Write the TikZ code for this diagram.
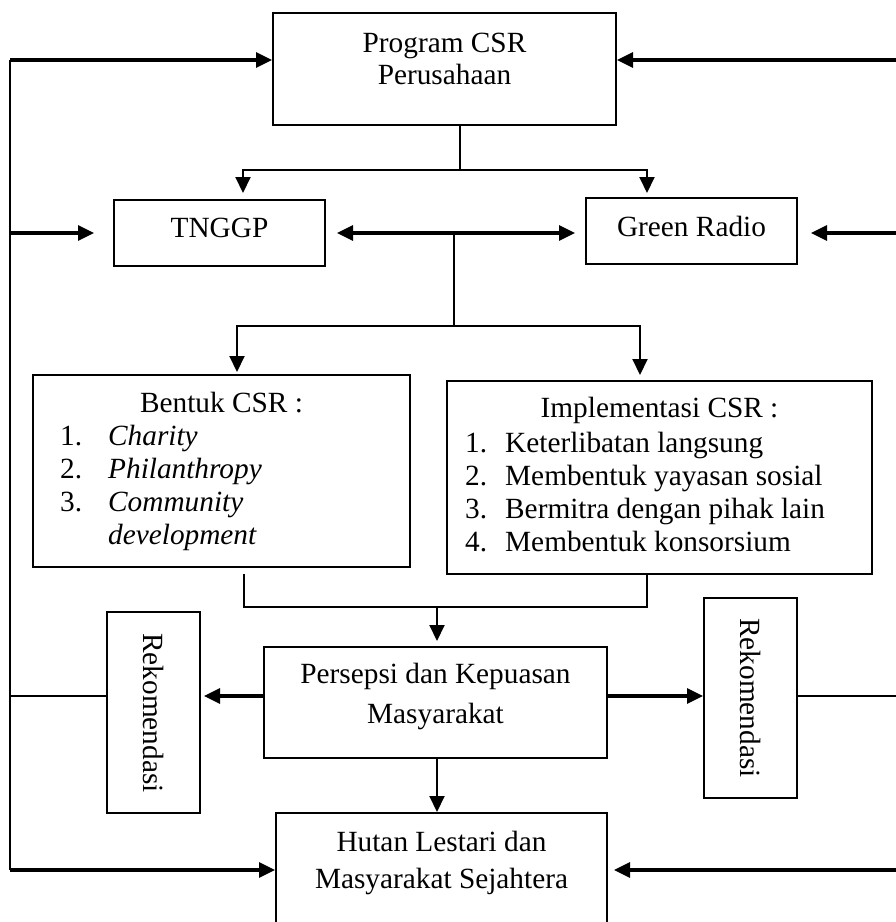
\documentclass[tikz,border=0pt]{standalone}
\usepackage{fontspec}
\setmainfont{Liberation Serif}
\usetikzlibrary{arrows.meta}
\newcommand\fsz[1]{\fontsize{29.3}{#1}\selectfont}
\tikzset{
  boxnode/.style={draw, line width=2pt, inner sep=0pt},
  txt/.style={inner sep=0pt, font=\fsz{33.3}},
  conn/.style={line width=2pt},
  thinline/.style={line width=1.5pt},
  tarrow/.style={line width=2pt, -{Triangle[length=16pt,width=15pt]}},
  harrow/.style={line width=3.2pt, -{Triangle[length=16pt,width=15pt]}},
  dharrow/.style={line width=3.2pt, {Triangle[length=16pt,width=15pt]}-{Triangle[length=16pt,width=15pt]}},
}
\begin{document}
\begin{tikzpicture}[x=1pt,y=-1pt]
\useasboundingbox (0,0) rectangle (896,922);
\clip (0,0) rectangle (896,922);
\fill[white] (0,0) rectangle (896,922);

% boxes
\node[boxnode, minimum width=343pt, minimum height=112pt] (prog) at (444.5,69) {};
\node[boxnode, minimum width=211pt, minimum height=66pt] (tng) at (219.5,233) {};
\node[boxnode, minimum width=211pt, minimum height=66pt] (grr) at (691.5,231) {};
\node[boxnode, minimum width=377pt, minimum height=192pt] (bent) at (221.5,471) {};
\node[boxnode, minimum width=425pt, minimum height=193pt] (impl) at (659.5,477.5) {};
\node[boxnode, minimum width=343pt, minimum height=111pt] (pers) at (435.5,702.5) {};
\node[boxnode, minimum width=93pt, minimum height=201pt] (rekL) at (153.5,712.5) {};
\node[boxnode, minimum width=93pt, minimum height=200pt] (rekR) at (750.5,698) {};
\node[boxnode, minimum width=331pt, minimum height=150pt] (hut) at (441.5,888) {};

% texts
\node[txt, anchor=base] (progT) at (444.5,52) {\fsz{32}\begin{tabular}[t]{@{}c@{}}Program CSR\\Perusahaan\end{tabular}};
\node[txt, anchor=base] (tngT) at (219.5,237) {TNGGP};
\node[txt, anchor=base] (grrT) at (691.5,236) {Green Radio};
\node[txt, anchor=base] (bentH) at (221.5,412) {Bentuk CSR :};
\node[txt, anchor=base west] (bentL) at (60,445) {\fsz{33.3}\begin{tabular}[t]{@{}p{48pt}@{}l@{}}
1.&\textit{Charity}\\
2.&\textit{Philanthropy}\\
3.&\textit{Community}\\
&\textit{development}\end{tabular}};
\node[txt, anchor=base] (implH) at (659.5,417) {Implementasi CSR :};
\node[txt, anchor=base west] (implL) at (465,452) {\fsz{33.3}\begin{tabular}[t]{@{}p{40pt}@{}l@{}}
1.&Keterlibatan langsung\\
2.&Membentuk yayasan sosial\\
3.&Bermitra dengan pihak lain\\
4.&Membentuk konsorsium\end{tabular}};
\node[txt, anchor=base] (persT) at (435.5,683) {\fsz{40}\begin{tabular}[t]{@{}c@{}}Persepsi dan Kepuasan\\Masyarakat\end{tabular}};
\node[txt, anchor=base] (hutT) at (441.5,851) {\fsz{37}\begin{tabular}[t]{@{}c@{}}Hutan Lestari dan\\Masyarakat Sejahtera\end{tabular}};
\node[txt, rotate=-90] (rekLT) at (153.5,713) {Rekomendasi};
\node[txt, rotate=-90] (rekRT) at (750.5,698) {Rekomendasi};

% coordinates
\coordinate (L1) at (10,60);
\coordinate (L2) at (10,233);
\coordinate (L3) at (10,696);
\coordinate (L4) at (10,870);
\coordinate (R1) at (900,60);
\coordinate (R2) at (900,233);
\coordinate (R3) at (900,696);
\coordinate (R4) at (900,870);
\coordinate (J1) at (460,170);
\coordinate (J1L) at (243,170);
\coordinate (J1R) at (647,170);
\coordinate (J2T) at (454,233);
\coordinate (J2) at (454,326);
\coordinate (J2L) at (237,326);
\coordinate (J2R) at (640,326);
\coordinate (B1) at (244,574);
\coordinate (B2) at (244,607);
\coordinate (B3) at (647,607);
\coordinate (J3) at (437,607);
\coordinate (TL) at (94,233);
\coordinate (TR) at (811,233);
\coordinate (BR) at (614,870);

% left frame line
\draw[conn] (L1) -- (L4);

% edge arrows
\draw[harrow] (L1) -- (L1 -| prog.west);
\draw[harrow] (R1) -- (R1 -| prog.east);
\draw[harrow] (L2) -- (TL);
\draw[harrow] (R2) -- (TR);
\draw[harrow] (L4) -- (L4 -| hut.west);
\draw[harrow] (R4) -- (BR);

% program to TNGGP / Green Radio
\draw[conn] (prog.south -| J1) -- (J1);
\draw[tarrow, shorten >=6pt] (J1) -| (tng.north -| J1L);
\draw[tarrow, shorten >=4pt] (J1) -| (grr.north -| J1R);

% double arrow
\draw[dharrow, shorten <=11pt, shorten >=10pt] (tng.east) -- (tng.east -| grr.west);

% to Bentuk / Implementasi
\draw[conn] (J2T) -- (J2);
\draw[tarrow, shorten >=2pt] (J2) -| (J2L |- bent.north);
\draw[tarrow, shorten >=5pt] (J2) -| (J2R |- impl.north);

% join
\draw[conn] (B1) -- (B2) -| (B3 |- impl.south);
\draw[tarrow, shorten >=5pt] (J3) -- (J3 |- pers.north);

% persepsi side arrows
\draw[harrow, shorten >=3pt] (pers.west |- L3) -- (rekL.east |- L3);
\draw[harrow] (pers.east |- R3) -- (rekR.west |- R3);
\draw[thinline] (rekL.west |- L3) -- (L3);
\draw[thinline] (rekR.east |- R3) -- (R3);

% persepsi to hutan
\draw[tarrow] (pers.south -| J3) -- (hut.north -| J3);
\end{tikzpicture}
\end{document}
